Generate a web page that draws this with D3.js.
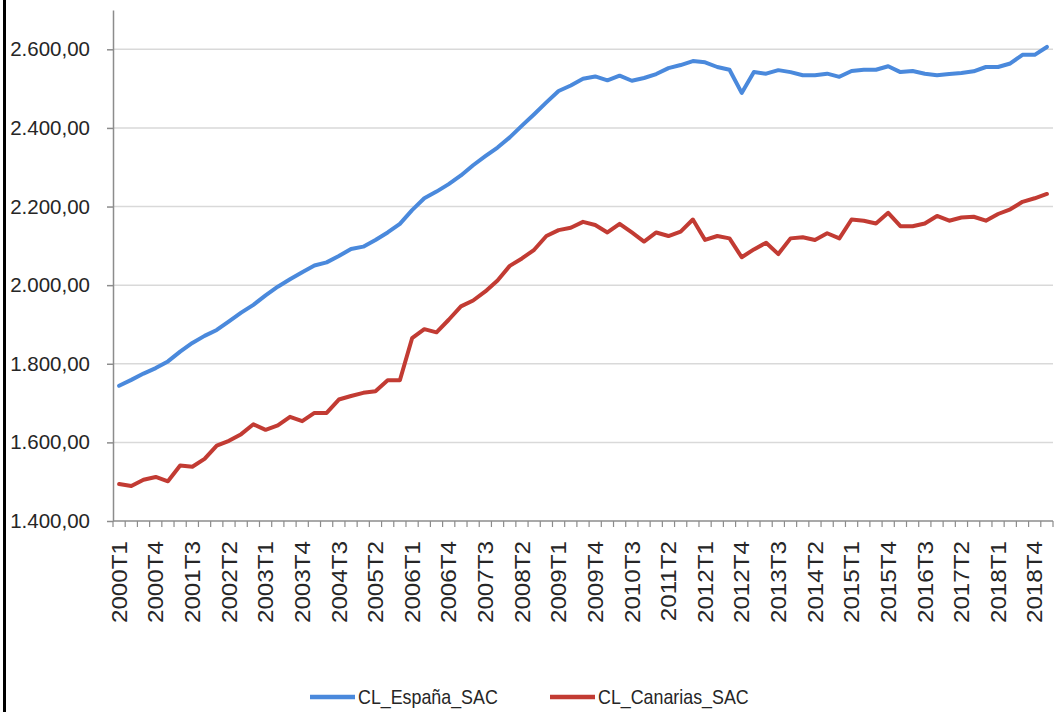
<!DOCTYPE html>
<html><head><meta charset="utf-8">
<script src="https://cdn.jsdelivr.net/npm/d3@7"></script>
<style>html,body{margin:0;padding:0;background:#fff;} svg{display:block;}</style>
</head><body><svg id="chart" width="1054" height="712"></svg>
<script>
const categories = [
"2000T1","2000T2","2000T3","2000T4","2001T1","2001T2","2001T3","2001T4",
"2002T1","2002T2","2002T3","2002T4","2003T1","2003T2","2003T3","2003T4",
"2004T1","2004T2","2004T3","2004T4","2005T1","2005T2","2005T3","2005T4",
"2006T1","2006T2","2006T3","2006T4","2007T1","2007T2","2007T3","2007T4",
"2008T1","2008T2","2008T3","2008T4","2009T1","2009T2","2009T3","2009T4",
"2010T1","2010T2","2010T3","2010T4","2011T1","2011T2","2011T3","2011T4",
"2012T1","2012T2","2012T3","2012T4","2013T1","2013T2","2013T3","2013T4",
"2014T1","2014T2","2014T3","2014T4","2015T1","2015T2","2015T3","2015T4",
"2016T1","2016T2","2016T3","2016T4","2017T1","2017T2","2017T3","2017T4",
"2018T1","2018T2","2018T3","2018T4","2019T1"];

const espana = [
1744,1759,1775,1789,1806,1831,1853,1871,1886,1908,
1930,1950,1974,1996,2015,2033,2050,2058,2074,2092,
2098,2115,2134,2156,2191,2221,2238,2257,2279,2305,
2328,2350,2376,2406,2435,2465,2494,2508,2525,2531,
2521,2533,2520,2527,2537,2552,2560,2570,2567,2555,
2548,2489,2542,2538,2547,2542,2534,2534,2538,2530,
2545,2548,2548,2557,2542,2545,2538,2534,2537,2540,
2544,2555,2555,2564,2586,2586,2606];

const canarias = [
1494,1489,1505,1512,1501,1541,1538,1558,1592,1604,
1621,1646,1632,1643,1665,1654,1675,1675,1709,1718,
1726,1730,1758,1758,1865,1888,1880,1912,1946,1961,
1984,2012,2049,2068,2090,2125,2140,2146,2161,2153,
2134,2156,2134,2111,2134,2125,2136,2167,2115,2125,
2119,2071,2091,2108,2079,2119,2122,2115,2132,2119,
2167,2164,2157,2184,2150,2150,2157,2176,2164,2172,
2174,2164,2181,2193,2212,2221,2232];

const tickLabels = ["2000T1","2000T4","2001T3","2002T2","2003T1","2003T4","2004T3",
"2005T2","2006T1","2006T4","2007T3","2008T2","2009T1","2009T4","2010T3","2011T2",
"2012T1","2012T4","2013T3","2014T2","2015T1","2015T4","2016T3","2017T2","2018T1","2018T4"];

const yTicks = [1400,1600,1800,2000,2200,2400,2600];
const seriesNames = ["CL_España_SAC","CL_Canarias_SAC"];
const seriesColors = ["#4A89DC","#C23B33"];

const svg = d3.select("#chart");
const W = 1054, H = 712;
const plot = {left:113, right:1053, top:10, bottom:521};
const FONT = "'Liberation Sans', Arial, sans-serif";
const TEXT = "#262626";

svg.append("rect").attr("width",W).attr("height",H).attr("fill","#fff");
// frame edge on left
svg.append("line").attr("x1",4.5).attr("x2",4.5).attr("y1",0).attr("y2",H)
  .attr("stroke","#000").attr("stroke-width",3);

const x = d3.scaleBand().domain(categories).range([plot.left, plot.right]).padding(0);
const y = d3.scaleLinear().domain([1400,2700]).range([plot.bottom, plot.top]);

const loc = d3.formatLocale({decimal:",", thousands:".", grouping:[3], currency:["","€"]});
const fmt = loc.format(",.2f");

// gridlines
svg.append("g").selectAll("line").data(yTicks.filter(d=>d>1400)).join("line")
  .attr("x1",plot.left).attr("x2",plot.right)
  .attr("y1",d=>y(d)).attr("y2",d=>y(d))
  .attr("stroke","#d9d9d9").attr("stroke-width",1.5);

// y axis
const yAxis = svg.append("g").attr("transform",`translate(${plot.left},0)`)
  .call(d3.axisLeft(y).tickValues(yTicks).tickFormat(fmt).tickSize(6).tickSizeOuter(0).tickPadding(17));
yAxis.select(".domain").attr("stroke","#8c8c8c").attr("stroke-width",1.5);
yAxis.selectAll(".tick line").attr("stroke","#8c8c8c").attr("stroke-width",1.5);
yAxis.selectAll("text").attr("font-family",FONT).attr("font-size",20.5).attr("fill",TEXT);

// x axis line
svg.append("line").attr("x1",plot.left).attr("x2",plot.right)
  .attr("y1",plot.bottom).attr("y2",plot.bottom)
  .attr("stroke","#8c8c8c").attr("stroke-width",1.5);
// category boundary ticks
const bounds = categories.map(c=>x(c)).concat([x(categories[categories.length-1])+x.bandwidth()]);
svg.append("g").selectAll("line").data(bounds).join("line")
  .attr("x1",d=>d).attr("x2",d=>d).attr("y1",plot.bottom).attr("y2",plot.bottom+6)
  .attr("stroke","#8c8c8c").attr("stroke-width",1.2);

// x labels
svg.append("g").selectAll("text").data(tickLabels).join("text")
  .attr("transform",d=>`translate(${x(d)+x.bandwidth()/2},541) rotate(-90) scale(1.1,1)`)
  .attr("text-anchor","end").attr("dy","0.35em")
  .attr("font-family",FONT).attr("font-size",22).attr("fill",TEXT)
  .text(d=>d);

// lines
const line = d3.line().x((d,i)=>x(categories[i])+x.bandwidth()/2).y(d=>y(d));
[espana, canarias].forEach((s,k)=>{
  svg.append("path").datum(s).attr("d",line).attr("fill","none")
    .attr("stroke",seriesColors[k]).attr("stroke-width",4)
    .attr("stroke-linejoin","round").attr("stroke-linecap","round");
});

// legend
const legendItems = [{x:310},{x:550}];
const lg = svg.append("g");
seriesNames.forEach((name,k)=>{
  const lx = legendItems[k].x, ly = 697;
  lg.append("line").attr("x1",lx).attr("x2",lx+45).attr("y1",ly).attr("y2",ly)
    .attr("stroke",seriesColors[k]).attr("stroke-width",4.5);
  lg.append("text").attr("transform",`translate(${lx+48},${ly}) scale(0.85,1)`)
    .attr("dy","0.35em").attr("font-family",FONT).attr("font-size",21).attr("fill",TEXT)
    .text(name);
});
</script>
</body></html>
